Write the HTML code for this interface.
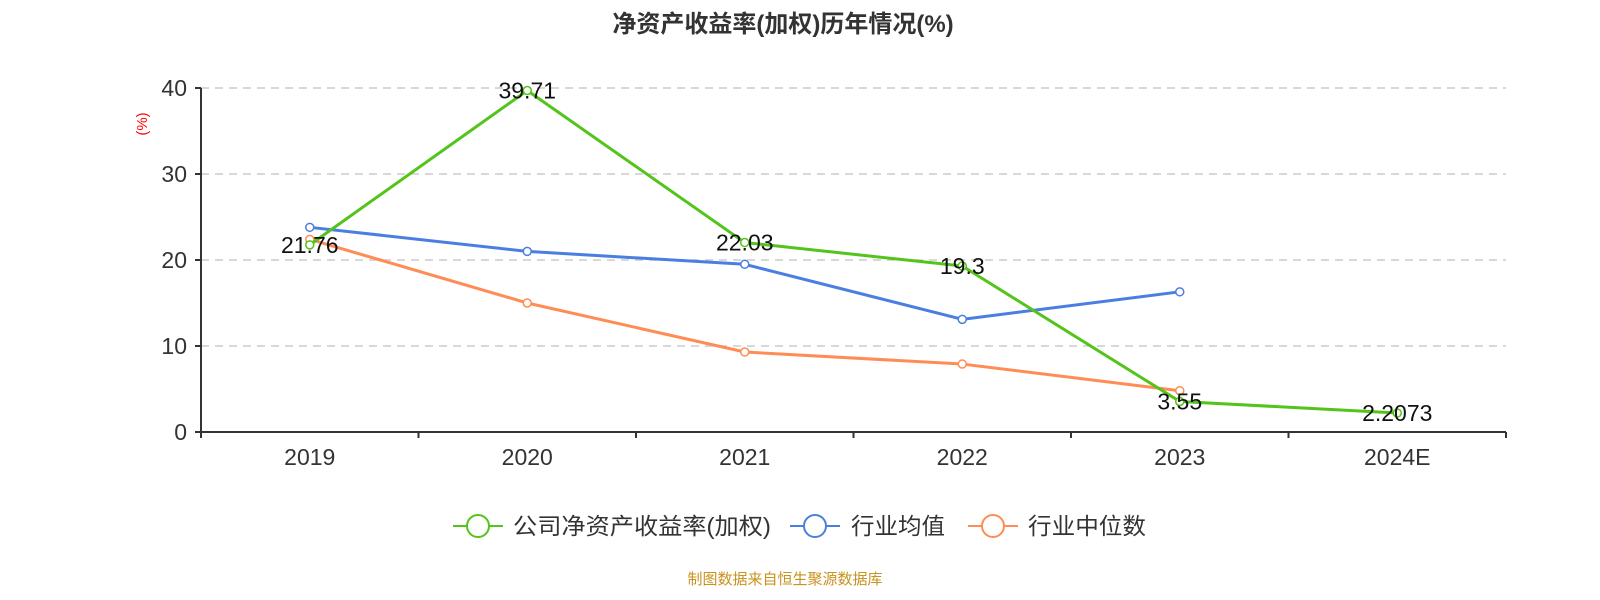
<!DOCTYPE html>
<html><head><meta charset="utf-8">
<style>
body{margin:0;background:#fff;}
svg{display:block;font-family:"Liberation Sans","Noto Sans CJK SC",sans-serif;}
</style></head>
<body>
<svg id="chart" width="1600" height="600" viewBox="0 0 1600 600" xmlns="http://www.w3.org/2000/svg">
<text x="783" y="32" text-anchor="middle" font-size="24" font-weight="bold" fill="#333">净资产收益率(加权)历年情况(%)</text>
<text transform="translate(147,124) rotate(-90)" text-anchor="middle" font-size="15" fill="#ff0000">(%)</text>
<g id="grid"></g>
<g id="axes"></g>
<g id="series"></g>
<g id="legend">
  <g>
    <line x1="453" y1="526" x2="503" y2="526" stroke="#52c41a" stroke-width="2"/>
    <circle cx="478" cy="526" r="11" fill="#fff" stroke="#52c41a" stroke-width="2"/>
    <text x="513" y="534" font-size="23" fill="#333" textLength="258" lengthAdjust="spacingAndGlyphs">公司净资产收益率(加权)</text>
  </g>
  <g>
    <line x1="790" y1="526" x2="840" y2="526" stroke="#4a7ee0" stroke-width="2"/>
    <circle cx="815" cy="526" r="11" fill="#fff" stroke="#4a7ee0" stroke-width="2"/>
    <text x="851" y="534" font-size="23" fill="#333" textLength="94" lengthAdjust="spacingAndGlyphs">行业均值</text>
  </g>
  <g>
    <line x1="968" y1="526" x2="1018" y2="526" stroke="#ff8c55" stroke-width="2"/>
    <circle cx="993" cy="526" r="11" fill="#fff" stroke="#ff8c55" stroke-width="2"/>
    <text x="1028" y="534" font-size="23" fill="#333" textLength="118" lengthAdjust="spacingAndGlyphs">行业中位数</text>
  </g>
</g>
<text x="785" y="584" text-anchor="middle" font-size="15" fill="#c8921e">制图数据来自恒生聚源数据库</text>
</svg>
<script>
const categories = ["2019","2020","2021","2022","2023","2024E"];
const companyValues = [21.76, 39.71, 22.03, 19.3, 3.55, 2.2073];
const companyLabels = ["21.76","39.71","22.03","19.3","3.55","2.2073"];
const industryAvg = [23.8, 21.0, 19.5, 13.1, 16.3];
const industryMedian = [22.4, 15.0, 9.3, 7.9, 4.8];
const yTicks = [0, 10, 20, 30, 40];

const NS = "http://www.w3.org/2000/svg";
const X0 = 201, X1 = 1506, Y0 = 432, Y1 = 88, YMAX = 40;
const band = (X1 - X0) / categories.length;
function xPos(i){ return X0 + band * (i + 0.5); }
function yPos(v){ return Y0 - (v / YMAX) * (Y0 - Y1); }
function mk(tag, attrs, parent){
  const e = document.createElementNS(NS, tag);
  for (const k in attrs) e.setAttribute(k, attrs[k]);
  parent.appendChild(e);
  return e;
}
const grid = document.getElementById('grid');
const axes = document.getElementById('axes');
const series = document.getElementById('series');

yTicks.forEach(t => {
  const y = yPos(t);
  if (t > 0) {
    const g = mk('line', {x1:X0, x2:X1, y1:y, y2:y, stroke:'#ccc', 'stroke-width':1.5, 'stroke-dasharray':'8,6'}, grid);
    
    
  }
  const tk = mk('line', {x1:X0-6, x2:X0, y1:y, y2:y, stroke:'#333', 'stroke-width':2}, axes);
  
  
  const lb = mk('text', {x:X0-14, y:y+8, 'text-anchor':'end', 'font-size':23, fill:'#333'}, axes);
  lb.textContent = t;
  
  
});
const ya = mk('line', {x1:X0, x2:X0, y1:Y1, y2:Y0, stroke:'#333', 'stroke-width':2}, axes);


const xa = mk('line', {x1:X0, x2:X1, y1:Y0, y2:Y0, stroke:'#333', 'stroke-width':2}, axes);


for (let i = 0; i <= categories.length; i++) {
  const x = X0 + band * i;
  const tk = mk('line', {x1:x, x2:x, y1:Y0, y2:Y0+6, stroke:'#333', 'stroke-width':2}, axes);
  
  
}
categories.forEach((c, i) => {
  const lb = mk('text', {x:xPos(i), y:Y0+33, 'text-anchor':'middle', 'font-size':23, fill:'#333'}, axes);
  lb.textContent = c;
  
  
});

function drawSeries(vals, color, name){
  const g = mk('g', {}, series);
  
  
  const pts = vals.map((v, i) => xPos(i) + ',' + yPos(v)).join(' ');
  const pl = mk('polyline', {points:pts, fill:'none', stroke:color, 'stroke-width':3, 'stroke-linejoin':'round'}, g);
  
  
  vals.forEach((v, i) => {
    const c = mk('circle', {cx:xPos(i), cy:yPos(v), r:4, fill:'#fff', stroke:color, 'stroke-width':1.5}, g);
    
    
  });
}
drawSeries(industryMedian, '#ff8c55', 'industry-median');
drawSeries(industryAvg, '#4a7ee0', 'industry-avg');
drawSeries(companyValues, '#52c41a', 'company');

companyValues.forEach((v, i) => {
  const t = mk('text', {x:xPos(i), y:yPos(v)+8, 'text-anchor':'middle', 'font-size':23, fill:'#111'}, series);
  t.textContent = companyLabels[i];
  
  
});
</script>
</body></html>
